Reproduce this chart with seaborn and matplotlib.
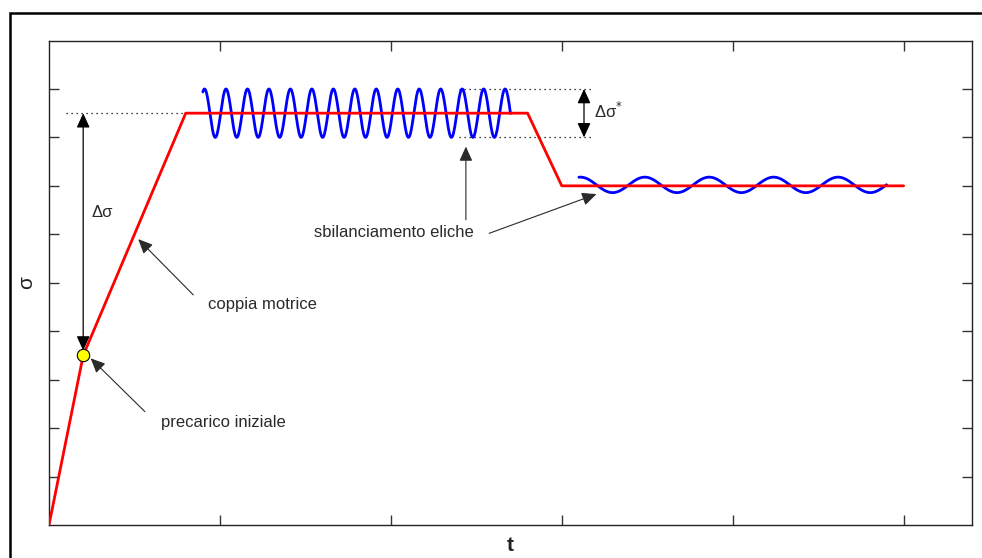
import numpy as np
import pandas as pd
import matplotlib
matplotlib.use("Agg")
import matplotlib.pyplot as plt
from matplotlib.patches import Rectangle
import seaborn as sns

# Load profile (piecewise linear stress history)
red_t = [0.0, 0.2, 0.8, 2.8, 3.0, 5.0]
red_sigma = [0.0, 3.5, 8.5, 8.5, 7.0, 7.0]

# Preload point
pre_t = [0.2]
pre_sigma = [3.5]

# Propeller-imbalance oscillation on the upper plateau
fast_start, fast_end = 0.90, 2.70
fast_crest, fast_period = 0.91, 0.1256
fast_mean, fast_amp = 8.5, 0.5

# Residual oscillation on the lower plateau
slow_start, slow_end = 3.10, 4.90
slow_crest, slow_period = 3.109, 0.3768
slow_mean, slow_amp = 7.02, 0.16

x_ticks = [1, 2, 3, 4, 5]
y_ticks = [1, 2, 3, 4, 5, 6, 7, 8, 9]


def wave(t0, t1, crest, period, mean, amp, n=600):
    t = np.linspace(t0, t1, n)
    s = mean + amp * np.cos(2 * np.pi * (t - crest) / period)
    return pd.DataFrame({"t": t, "sigma": s})


sns.set_style("white")
plt.rcParams["font.family"] = ["Liberation Sans", "DejaVu Sans"]

fig = plt.figure(figsize=(9.82, 5.58), dpi=100)
ax = fig.add_axes([49 / 982, 33 / 558, 923 / 982, 484.5 / 558])

fast = wave(fast_start, fast_end, fast_crest, fast_period, fast_mean, fast_amp)
slow = wave(slow_start, slow_end, slow_crest, slow_period, slow_mean, slow_amp)
profile = pd.DataFrame({"t": red_t, "sigma": red_sigma})

sns.lineplot(data=fast, x="t", y="sigma", ax=ax, color="#0000ff", lw=2.0,
             sort=False, zorder=3)
sns.lineplot(data=slow, x="t", y="sigma", ax=ax, color="#0000ff", lw=2.0,
             sort=False, zorder=3)
sns.lineplot(data=profile, x="t", y="sigma", ax=ax, color="#ff0000", lw=2.0,
             sort=False, zorder=4)
sns.scatterplot(x=pre_t, y=pre_sigma, ax=ax, color="#ffff00", s=80,
                edgecolor="black", linewidth=0.8, zorder=6)

# Reference dotted levels
dot = dict(color="black", lw=0.9, ls=(0, (1, 3)), zorder=2)
ax.plot([0.10, red_t[2]], [red_sigma[2]] * 2, **dot)
ax.plot([2.40, 3.18], [fast_mean + fast_amp] * 2, **dot)
ax.plot([2.40, 3.18], [fast_mean - fast_amp] * 2, **dot)

# Stress ranges
dbl = dict(arrowstyle="<|-|>,head_length=0.55,head_width=0.25", color="black",
           lw=0.9, mutation_scale=16, shrinkA=0, shrinkB=0)
ax.annotate("", xy=(pre_t[0], red_sigma[2]), xytext=(pre_t[0], pre_sigma[0] + 0.1),
            arrowprops=dbl, zorder=5)
ax.annotate("", xy=(3.13, fast_mean + fast_amp), xytext=(3.13, fast_mean - fast_amp),
            arrowprops=dbl, zorder=5)

txt = dict(fontsize=12, color="#2a2a2a", va="center")
ax.text(0.25, 6.46, "Δσ", ha="left", **txt)
ax.text(3.19, 8.55, "Δσ$^{*}$", ha="left", **txt)

# Callouts
one = dict(arrowstyle="-|>,head_length=0.55,head_width=0.25", color="#2a2a2a",
           lw=0.8, mutation_scale=16, shrinkA=0, shrinkB=0)
ax.annotate("", xy=(0.522, 5.90), xytext=(0.844, 4.75), arrowprops=one)
ax.text(1.25, 4.56, "coppia motrice", ha="center", **txt)

ax.annotate("", xy=(0.244, 3.44), xytext=(0.561, 2.34), arrowprops=one)
ax.text(1.018, 2.11, "precarico iniziale", ha="center", **txt)

ax.annotate("", xy=(2.439, 7.81), xytext=(2.439, 6.30), arrowprops=one)
ax.annotate("", xy=(3.203, 6.83), xytext=(2.575, 6.02), arrowprops=one)
ax.text(2.015, 6.03, "sbilanciamento eliche", ha="center", **txt)

# Axes styling: inward ticks on every side, no tick labels
ax.set_xlim(0, 5.4)
ax.set_ylim(0, 10)
ax.set_xticks(x_ticks)
ax.set_yticks(y_ticks)
ax.tick_params(direction="in", length=7, width=1.0, color="#333333",
               top=True, right=True, bottom=True, left=True,
               labelbottom=False, labelleft=False)
for sp in ax.spines.values():
    sp.set_visible(True)
    sp.set_color("#222222")
    sp.set_linewidth(1.0)

ax.set_xlabel("t", fontsize=15, fontweight="bold", color="#222222")
ax.set_ylabel("σ", fontsize=15, color="#222222")
ax.xaxis.set_label_coords(0.5, -0.043)
ax.xaxis.label.set_va("center")
ax.yaxis.set_label_coords(-0.024, 0.5)
ax.yaxis.label.set_va("center")

# Outer figure frame
fig.add_artist(Rectangle((9.5 / 982, -0.1), 2.0, (558 - 12.5) / 558 + 0.1,
                         transform=fig.transFigure, fill=False,
                         lw=1.8, ec="black"))

fig.savefig("out.png", dpi=100)
